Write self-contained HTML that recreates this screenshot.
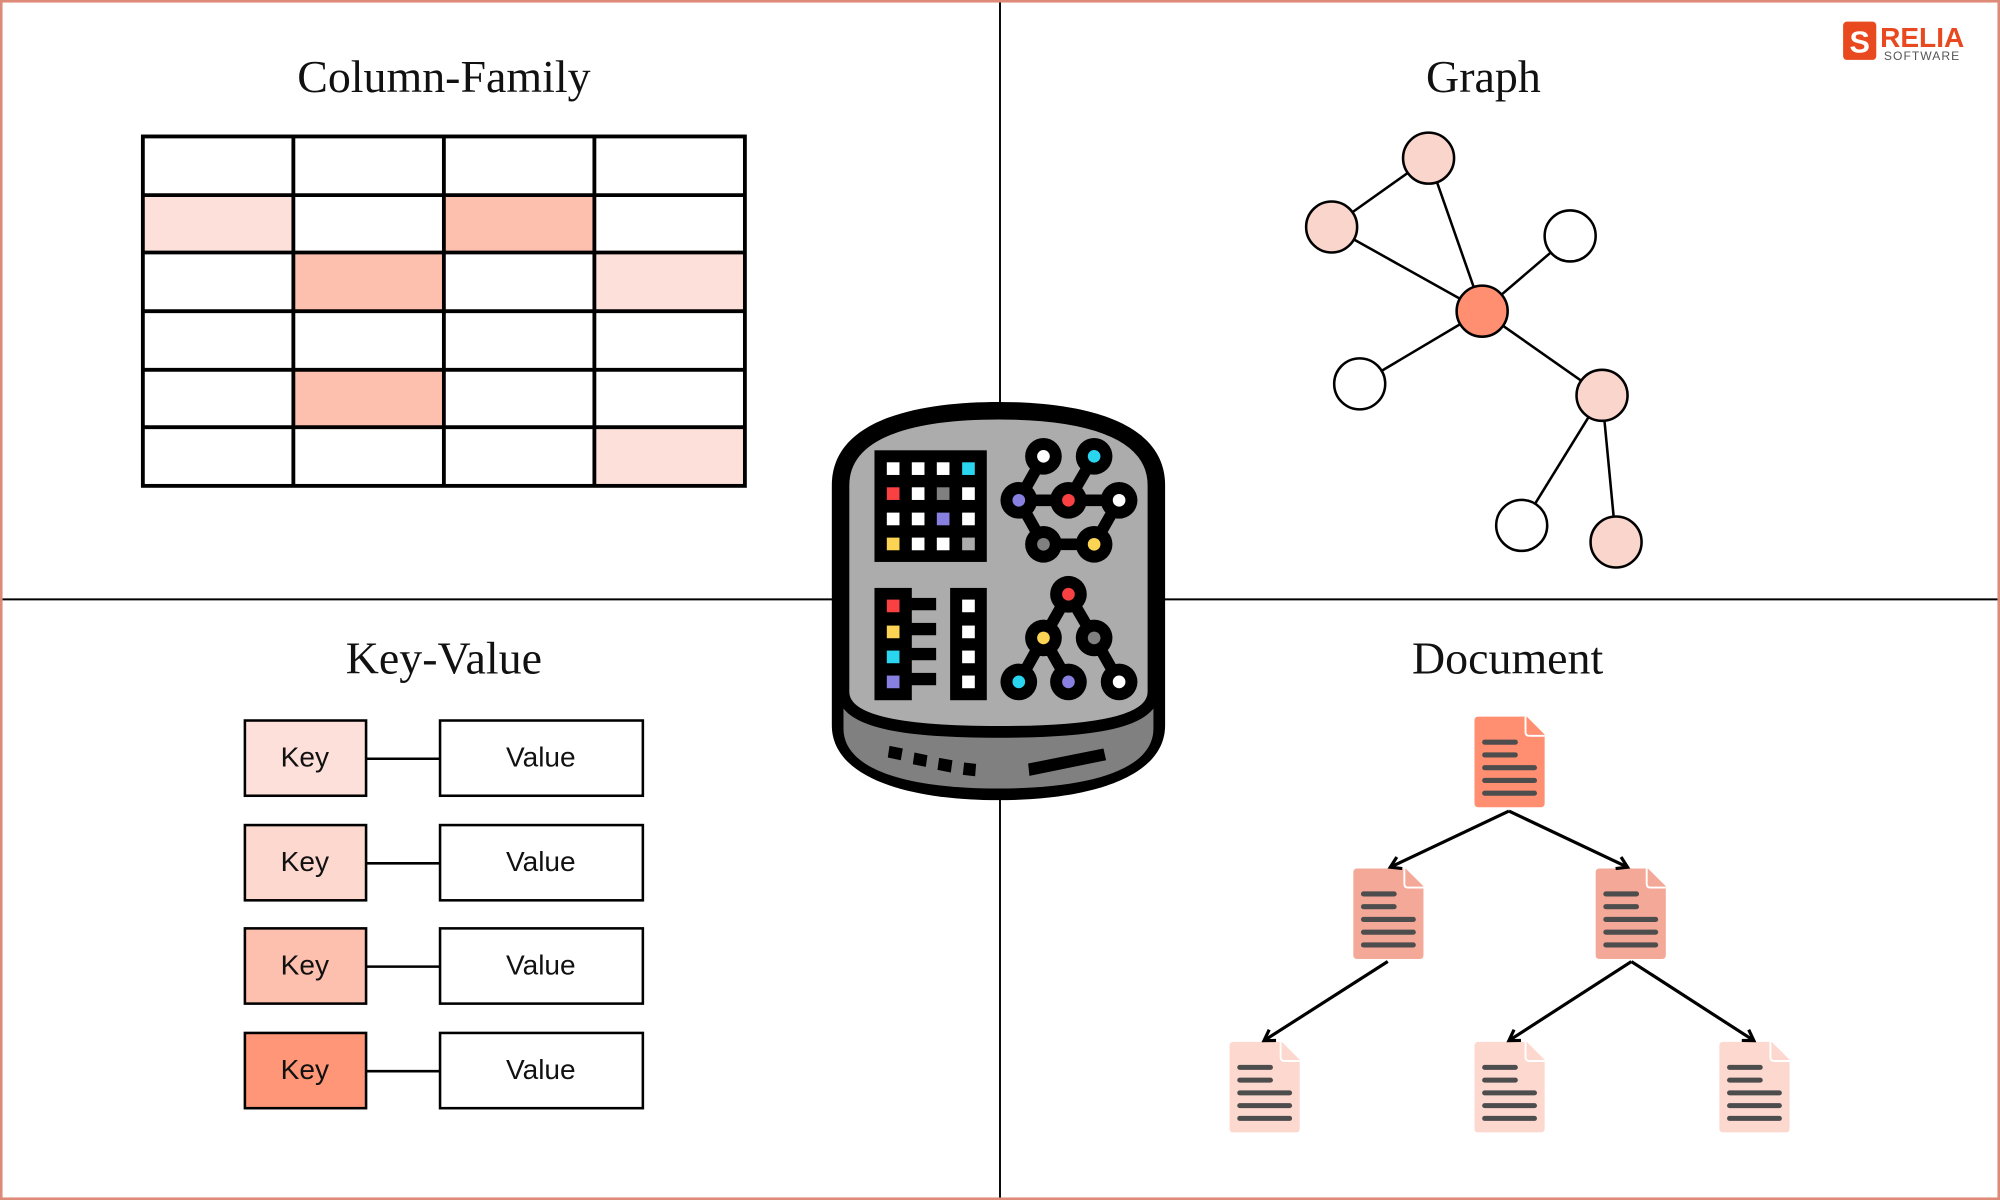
<!DOCTYPE html>
<html><head><meta charset="utf-8"><style>
html,body{margin:0;padding:0;background:#fff}
svg{display:block}
.t{font-family:"Liberation Serif",serif;font-size:36px;text-anchor:middle;fill:#111}
.k{font-family:"Liberation Sans",sans-serif;font-size:22px;text-anchor:middle;fill:#111}
</style></head><body>
<svg width="2000" height="1200" viewBox="0 0 1568 941" preserveAspectRatio="none" xmlns="http://www.w3.org/2000/svg">
<defs>
<g id="doc">
<path d="M3,0 H41 L55,14 V68 Q55,71 52,71 H3 Q0,71 0,68 V3 Q0,0 3,0Z"/>
<path d="M40,0 V12 Q40,15 43,15 H55" fill="none" stroke="#fff" stroke-width="1.5"/>
<g stroke="#4d4d4d" stroke-width="4" stroke-linecap="round">
<line x1="8" y1="20" x2="32" y2="20"/><line x1="8" y1="30" x2="32" y2="30"/>
<line x1="8" y1="40" x2="47" y2="40"/><line x1="8" y1="50" x2="47" y2="50"/><line x1="8" y1="60" x2="47" y2="60"/>
</g></g>
<marker id="ar" markerWidth="12" markerHeight="12" refX="9" refY="6" orient="auto" markerUnits="userSpaceOnUse"><path d="M1,1 L9,6 L1,11" fill="none" stroke="#000" stroke-width="2.5"/></marker>
</defs>
<rect x="1" y="1" width="1566" height="939" fill="#fff" stroke="#dd8a78" stroke-width="2"/>
<line x1="784" y1="2" x2="784" y2="939" stroke="#000" stroke-width="1.5"/>
<line x1="2" y1="470" x2="1566" y2="470" stroke="#000" stroke-width="1.5"/>

<text class="t" x="348" y="72">Column-Family</text>
<text class="t" x="1163" y="72">Graph</text>
<text class="t" x="348" y="528">Key-Value</text>
<text class="t" x="1182" y="528">Document</text>

<g>
<rect x="112" y="153" width="118" height="45" fill="#fde0d9"/>
<rect x="348" y="153" width="118" height="45" fill="#fdbfae"/>
<rect x="230" y="198" width="118" height="46" fill="#fdbfae"/>
<rect x="466" y="198" width="118" height="46" fill="#fde0d9"/>
<rect x="230" y="290" width="118" height="45" fill="#fdbfae"/>
<rect x="466" y="335" width="118" height="46" fill="#fde0d9"/>
<g stroke="#000" stroke-width="3" fill="none">
<rect x="112" y="107" width="472" height="274"/>
<line x1="230" y1="107" x2="230" y2="381"/><line x1="348" y1="107" x2="348" y2="381"/><line x1="466" y1="107" x2="466" y2="381"/>
<line x1="112" y1="153" x2="584" y2="153"/><line x1="112" y1="198" x2="584" y2="198"/><line x1="112" y1="244" x2="584" y2="244"/>
<line x1="112" y1="290" x2="584" y2="290"/><line x1="112" y1="335" x2="584" y2="335"/>
</g></g>

<g stroke="#000" stroke-width="2">
<line x1="1120" y1="124" x2="1044" y2="178"/><line x1="1120" y1="124" x2="1162" y2="244"/>
<line x1="1044" y1="178" x2="1162" y2="244"/><line x1="1231" y1="185" x2="1162" y2="244"/>
<line x1="1066" y1="301" x2="1162" y2="244"/><line x1="1256" y1="310" x2="1162" y2="244"/>
<line x1="1256" y1="310" x2="1193" y2="412"/><line x1="1256" y1="310" x2="1267" y2="425"/>
<circle cx="1120" cy="124" r="20" fill="#f9d5cc"/><circle cx="1044" cy="178" r="20" fill="#f9d5cc"/>
<circle cx="1231" cy="185" r="20" fill="#fff"/><circle cx="1162" cy="244" r="20" fill="#ff8f70"/>
<circle cx="1066" cy="301" r="20" fill="#fff"/><circle cx="1256" cy="310" r="20" fill="#f9d5cc"/>
<circle cx="1193" cy="412" r="20" fill="#fff"/><circle cx="1267" cy="425" r="20" fill="#f9d5cc"/>
</g>

<g stroke="#000" stroke-width="2">
<rect x="192" y="565" width="95" height="59" fill="#fde0d9"/><rect x="345" y="565" width="159" height="59" fill="#fff"/><line x1="287" y1="595" x2="345" y2="595"/>
<rect x="192" y="647" width="95" height="59" fill="#fcd8cf"/><rect x="345" y="647" width="159" height="59" fill="#fff"/><line x1="287" y1="677" x2="345" y2="677"/>
<rect x="192" y="728" width="95" height="59" fill="#fdbfae"/><rect x="345" y="728" width="159" height="59" fill="#fff"/><line x1="287" y1="758" x2="345" y2="758"/>
<rect x="192" y="810" width="95" height="59" fill="#ff9677"/><rect x="345" y="810" width="159" height="59" fill="#fff"/><line x1="287" y1="840" x2="345" y2="840"/>
</g>
<text class="k" x="239" y="601">Key</text><text class="k" x="424" y="601">Value</text>
<text class="k" x="239" y="683">Key</text><text class="k" x="424" y="683">Value</text>
<text class="k" x="239" y="764">Key</text><text class="k" x="424" y="764">Value</text>
<text class="k" x="239" y="846">Key</text><text class="k" x="424" y="846">Value</text>

<use href="#doc" x="1156" y="562" fill="#ff8f70"/>
<use href="#doc" x="1061" y="681" fill="#f4a898"/>
<use href="#doc" x="1251" y="681" fill="#f4a898"/>
<use href="#doc" x="964" y="817" fill="#fdd8cf"/>
<use href="#doc" x="1156" y="817" fill="#fdd8cf"/>
<use href="#doc" x="1348" y="817" fill="#fdd8cf"/>
<g stroke="#000" stroke-width="2.5" marker-end="url(#ar)">
<line x1="1183" y1="636" x2="1090" y2="680"/><line x1="1183" y1="636" x2="1276" y2="680"/>
<line x1="1088" y1="754" x2="991" y2="816"/><line x1="1279" y1="754" x2="1183" y2="816"/><line x1="1279" y1="754" x2="1375" y2="816"/>
</g>

<rect x="1445" y="17" width="26" height="30" rx="3" fill="#e8491f"/>
<text x="1458" y="41" font-family="Liberation Sans,sans-serif" font-weight="bold" font-size="24" fill="#fff" text-anchor="middle">S</text>
<text x="1474" y="37" font-family="Liberation Sans,sans-serif" font-weight="bold" font-size="22" fill="#e8491f">RELIA</text>
<text x="1477" y="47" font-family="Liberation Sans,sans-serif" font-size="9.5" fill="#555" letter-spacing="0.8">SOFTWARE</text>

<g transform="translate(643,310) scale(0.2613)">
<path d="M35,270 C35,70 300,20 535,20 C770,20 1035,70 1035,270 L1035,990 C1035,1150 800,1215 535,1215 C270,1215 35,1150 35,990 Z" fill="#000"/>
<path d="M70,880 L1000,880 L1000,1000 C1000,1130 790,1180 535,1180 C280,1180 70,1130 70,1000 Z" fill="#808080"/>
<path d="M70,270 C70,100 300,55 535,55 C770,55 1000,100 1000,270 L1000,890 C1000,990 780,1010 535,1010 C290,1010 70,990 70,890 Z" fill="#acacac" stroke="#000" stroke-width="35"/>
<g fill="#000">
<polygon points="208,1052 248,1060 242,1095 203,1087"/><polygon points="283,1072 322,1080 317,1115 278,1107"/>
<polygon points="357,1088 397,1095 392,1132 352,1124"/><polygon points="432,1102 468,1106 465,1143 428,1139"/>
<polygon points="624,1105 850,1060 858,1095 628,1142"/>
<rect x="163" y="165" width="337" height="335"/>
<rect x="163" y="578" width="112" height="337"/><rect x="390" y="578" width="110" height="337"/>
<rect x="270" y="608" width="78" height="37"/><rect x="270" y="683" width="78" height="37"/>
<rect x="270" y="758" width="78" height="37"/><rect x="270" y="833" width="78" height="37"/>
</g>
<rect x="200" y="201" width="38" height="38" fill="#fff"/><rect x="275" y="201" width="38" height="38" fill="#fff"/><rect x="350" y="201" width="38" height="38" fill="#fff"/><rect x="426" y="201" width="38" height="38" fill="#2ad5f0"/>
<rect x="200" y="276" width="38" height="38" fill="#f94144"/><rect x="275" y="276" width="38" height="38" fill="#fff"/><rect x="350" y="276" width="38" height="38" fill="#808080"/><rect x="426" y="276" width="38" height="38" fill="#fff"/>
<rect x="200" y="352" width="38" height="38" fill="#fff"/><rect x="275" y="352" width="38" height="38" fill="#fff"/><rect x="350" y="352" width="38" height="38" fill="#8880e0"/><rect x="426" y="352" width="38" height="38" fill="#fff"/>
<rect x="200" y="427" width="38" height="38" fill="#fad452"/><rect x="275" y="427" width="38" height="38" fill="#fff"/><rect x="350" y="427" width="38" height="38" fill="#fff"/><rect x="426" y="427" width="38" height="38" fill="#acacac"/>
<rect x="200" y="613" width="38" height="38" fill="#f94144"/><rect x="200" y="691" width="38" height="38" fill="#fad452"/><rect x="200" y="766" width="38" height="38" fill="#2ad5f0"/><rect x="200" y="841" width="38" height="38" fill="#8880e0"/>
<rect x="426" y="613" width="38" height="38" fill="#fff"/><rect x="426" y="691" width="38" height="38" fill="#fff"/><rect x="426" y="766" width="38" height="38" fill="#fff"/><rect x="426" y="841" width="38" height="38" fill="#fff"/>
<g stroke="#000" stroke-width="35">
<line x1="670" y1="183" x2="596" y2="315"/><line x1="822" y1="183" x2="745" y2="315"/>
<line x1="596" y1="315" x2="897" y2="315"/><line x1="596" y1="315" x2="670" y2="447"/>
<line x1="897" y1="315" x2="822" y2="447"/><line x1="670" y1="447" x2="822" y2="447"/>
<line x1="745" y1="597" x2="670" y2="728"/><line x1="745" y1="597" x2="822" y2="728"/>
<line x1="670" y1="728" x2="596" y2="860"/><line x1="670" y1="728" x2="745" y2="860"/><line x1="822" y1="728" x2="897" y2="860"/>
</g>
<g fill="#000">
<circle cx="670" cy="183" r="55"/><circle cx="822" cy="183" r="55"/><circle cx="596" cy="315" r="55"/><circle cx="745" cy="315" r="55"/><circle cx="897" cy="315" r="55"/><circle cx="670" cy="447" r="55"/><circle cx="822" cy="447" r="55"/>
<circle cx="745" cy="597" r="55"/><circle cx="670" cy="728" r="55"/><circle cx="822" cy="728" r="55"/><circle cx="596" cy="860" r="55"/><circle cx="745" cy="860" r="55"/><circle cx="897" cy="860" r="55"/>
</g>
<circle cx="670" cy="183" r="19" fill="#fff"/><circle cx="822" cy="183" r="19" fill="#2ad5f0"/><circle cx="596" cy="315" r="19" fill="#8880e0"/><circle cx="745" cy="315" r="19" fill="#f94144"/><circle cx="897" cy="315" r="19" fill="#fff"/><circle cx="670" cy="447" r="19" fill="#808080"/><circle cx="822" cy="447" r="19" fill="#fad452"/>
<circle cx="745" cy="597" r="19" fill="#f94144"/><circle cx="670" cy="728" r="19" fill="#fad452"/><circle cx="822" cy="728" r="19" fill="#808080"/><circle cx="596" cy="860" r="19" fill="#2ad5f0"/><circle cx="745" cy="860" r="19" fill="#8880e0"/><circle cx="897" cy="860" r="19" fill="#fff"/>
</g>
</svg>
</body></html>
